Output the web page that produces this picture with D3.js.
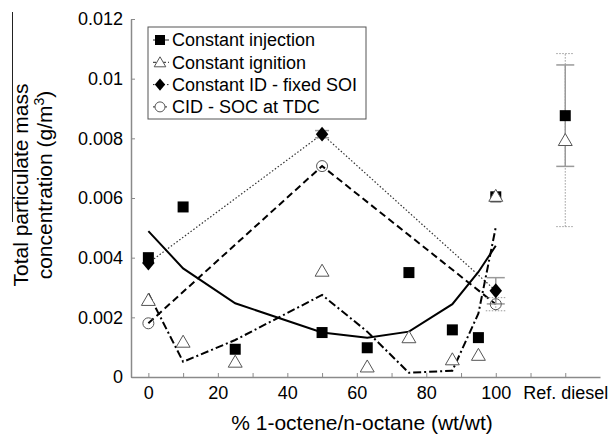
<!DOCTYPE html>
<html>
<head>
<meta charset="utf-8">
<script src="https://cdn.jsdelivr.net/npm/d3@7"></script>
<style>
  html, body { margin: 0; padding: 0; background: #fff; }
  svg { display: block; font-family: "Liberation Sans", Arial, sans-serif; }
</style>
</head>
<body>
<svg id="chart" width="611" height="435"></svg>
<script>
// Blend composition (% 1-octene in n-octane, wt/wt)
const blendPct = [0, 10, 25, 50, 63, 75, 87.5, 95, 100];

// Total particulate mass concentration (g/m3) for each operating mode
const constantInjection = [0.0040, 0.0057, 0.00093, 0.00149, 0.00098, 0.0035, 0.00158, 0.00132, 0.00604];
const constantIgnition  = [0.00258, 0.00118, 0.00051, 0.00356, 0.00035, 0.00133, 0.00059, 0.00074, 0.00607];

const cidPct = [0, 50, 100];
const cidFixedSOI = [0.00382, 0.00814, 0.00289];
const cidFixedSOIErr = [0, 0.00012, 0.00044];
const cidSocTDC = [0.0018, 0.00707, 0.00244];
const cidSocTDCErr = [0, 0, 0.00022];

// Trend curves through the constant injection / constant ignition results
const injectionTrend = [0.00489, 0.00364, 0.00247, 0.00149, 0.00132, 0.00152, 0.00244, 0.00352, 0.0044];
const ignitionTrend  = [0.0028, 0.00051, 0.00124, 0.00275, 0.00152, 0.00014, 0.00021, 0.00213, 0.00502];

// Reference diesel (plotted at position 120)
const refPos = 120;
const refInjection = 0.00876, refInjectionErr = 0.0017;
const refIgnition = 0.00794, refIgnitionErr = 0.0029;

const xTickValues = [0, 10, 20, 30, 40, 50, 60, 70, 80, 90, 100, 110, 120];
const xTickLabels = {0: "0", 20: "20", 40: "40", 60: "60", 80: "80", 100: "100", 120: "Ref. diesel"};
const yTickValues = [0, 0.002, 0.004, 0.006, 0.008, 0.01, 0.012];
const yTickLabels = ["0", "0.002", "0.004", "0.006", "0.008", "0.01", "0.012"];

const legendLabels = ["Constant injection", "Constant ignition", "Constant ID - fixed SOI", "CID - SOC at TDC"];

const svg = d3.select("#chart");
const x = d3.scaleLinear().domain([-5, 130]).range([131, 600]);
const y = d3.scaleLinear().domain([0, 0.012]).range([377, 19]);

const axisColor = "#8a8a8a";

// Axes
const xAxis = d3.axisBottom(x).tickValues(xTickValues)
  .tickFormat(d => xTickLabels[d] || "").tickSizeInner(-4).tickSizeOuter(0).tickPadding(9);
const gx = svg.append("g").attr("transform", `translate(0,${y(0)})`).call(xAxis);
gx.select(".domain").attr("stroke", axisColor).attr("stroke-width", 1.5);
gx.selectAll(".tick line").attr("stroke", axisColor);
gx.selectAll("text").attr("font-size", 18).attr("fill", "#000");

const yAxis = d3.axisLeft(y).tickValues(yTickValues)
  .tickFormat((d, i) => yTickLabels[i]).tickSizeInner(-4).tickSizeOuter(0).tickPadding(8);
const gy = svg.append("g").attr("transform", `translate(${x(-5)},0)`).call(yAxis);
gy.select(".domain").attr("stroke", axisColor).attr("stroke-width", 1.5);
gy.selectAll(".tick line").attr("stroke", axisColor);
gy.selectAll("text").attr("font-size", 18).attr("fill", "#000");

// Axis titles
svg.append("text").attr("x", 362).attr("y", 430).attr("text-anchor", "middle")
  .attr("font-size", 21).text("% 1-octene/n-octane (wt/wt)");

const yTitle = svg.append("g").attr("transform", "translate(0,185) rotate(-90)");
yTitle.append("text").attr("x", 0).attr("y", 28).attr("text-anchor", "middle")
  .attr("font-size", 21).text("Total particulate mass");
const t2 = yTitle.append("text").attr("x", 0).attr("y", 52).attr("text-anchor", "middle")
  .attr("font-size", 21);
t2.append("tspan").text("concentration (g/m");
t2.append("tspan").attr("font-size", 14).attr("dy", -8).text("3");
t2.append("tspan").attr("dy", 8).text(")");
svg.append("line").attr("x1", 12.5).attr("x2", 12.5).attr("y1", 12).attr("y2", 222)
  .attr("stroke", "#222").attr("stroke-width", 1);

// Lines
const line = d3.line().x(d => x(d[0])).y(d => y(d[1]));
function drawLine(xs, ys, opts) {
  svg.append("path").datum(xs.map((v, i) => [v, ys[i]]))
    .attr("d", line).attr("fill", "none")
    .attr("stroke", opts.color || "#000").attr("stroke-width", opts.width)
    .attr("stroke-dasharray", opts.dash || null);
}
drawLine(cidPct, cidFixedSOI, {width: 1.2, dash: "1.5,2", color: "#333"});
drawLine(cidPct, cidSocTDC, {width: 2, dash: "7,4"});
drawLine(blendPct, ignitionTrend, {width: 2, dash: "8,3,2,3"});
drawLine(blendPct, injectionTrend, {width: 2});

// Error bars
function errorBar(px, val, err, dotted, cap) {
  const g = svg.append("g").attr("stroke", "#9a9a9a").attr("stroke-width", dotted ? 1 : 1.5)
    .attr("stroke-dasharray", dotted ? "1.5,1.5" : null);
  const cx = x(px);
  g.append("line").attr("x1", cx).attr("x2", cx).attr("y1", y(val - err)).attr("y2", y(val + err));
  [val - err, val + err].forEach(v => g.append("line")
    .attr("x1", cx - cap).attr("x2", cx + cap).attr("y1", y(v)).attr("y2", y(v)));
}
errorBar(refPos, refIgnition, refIgnitionErr, true, 9);
errorBar(refPos, refInjection, refInjectionErr, false, 9);
cidPct.forEach((p, i) => { if (cidFixedSOIErr[i] > 0) errorBar(p, cidFixedSOI[i], cidFixedSOIErr[i], false, p === 50 ? 7 : 9); });
cidPct.forEach((p, i) => { if (cidSocTDCErr[i] > 0) errorBar(p, cidSocTDC[i], cidSocTDCErr[i], true, 10); });

// Marker shapes
const shapes = {
  square: (g, s) => g.append("rect").attr("x", -s / 2).attr("y", -s / 2).attr("width", s).attr("height", s)
    .attr("fill", "#000"),
  triangle: (g, s) => g.append("path")
    .attr("d", `M0,${-s * 0.55}L${s * 0.58},${s * 0.45}L${-s * 0.58},${s * 0.45}Z`)
    .attr("fill", "#fff").attr("stroke", "#555").attr("stroke-width", 1),
  diamond: (g, s) => g.append("path")
    .attr("d", `M0,${-s * 0.62}L${s * 0.52},0L0,${s * 0.62}L${-s * 0.52},0Z`).attr("fill", "#000"),
  circle: (g, s, fill) => g.append("circle").attr("r", s / 2)
    .attr("fill", fill || "none").attr("stroke", "#555").attr("stroke-width", 1)
};
function markers(xs, ys, shape, size) {
  xs.forEach((p, i) => {
    const g = svg.append("g").attr("transform", `translate(${x(p)},${y(ys[i])})`);
    shapes[shape](g, size);
  });
}
markers(cidPct, cidFixedSOI, "diamond", 12);
markers(blendPct, constantInjection, "square", 11);
markers([refPos], [refInjection], "square", 11);
markers(blendPct, constantIgnition, "triangle", 12);
markers([refPos], [refIgnition], "triangle", 12);
markers(cidPct, cidSocTDC, "circle", 11);

// Legend
const legend = svg.append("g");
legend.append("rect").attr("x", 148).attr("y", 27).attr("width", 218).attr("height", 92)
  .attr("fill", "#fff").attr("stroke", "#555").attr("stroke-width", 1);
const legendShapes = ["square", "triangle", "diamond", "circle"];
const legendDash = [null, "3,2", "1.5,2", "2,2"];
legendLabels.forEach((lab, i) => {
  const cy = 40 + i * 22.3;
  legend.append("line").attr("x1", 153).attr("x2", 169).attr("y1", cy).attr("y2", cy)
    .attr("stroke", "#222").attr("stroke-width", 1).attr("stroke-dasharray", legendDash[i]);
  const g = legend.append("g").attr("transform", `translate(160,${cy})`);
  shapes[legendShapes[i]](g, 10, "#fff");
  legend.append("text").attr("x", 172).attr("y", cy).attr("dy", "0.35em")
    .attr("font-size", 18).text(lab);
});
</script>
</body>
</html>
